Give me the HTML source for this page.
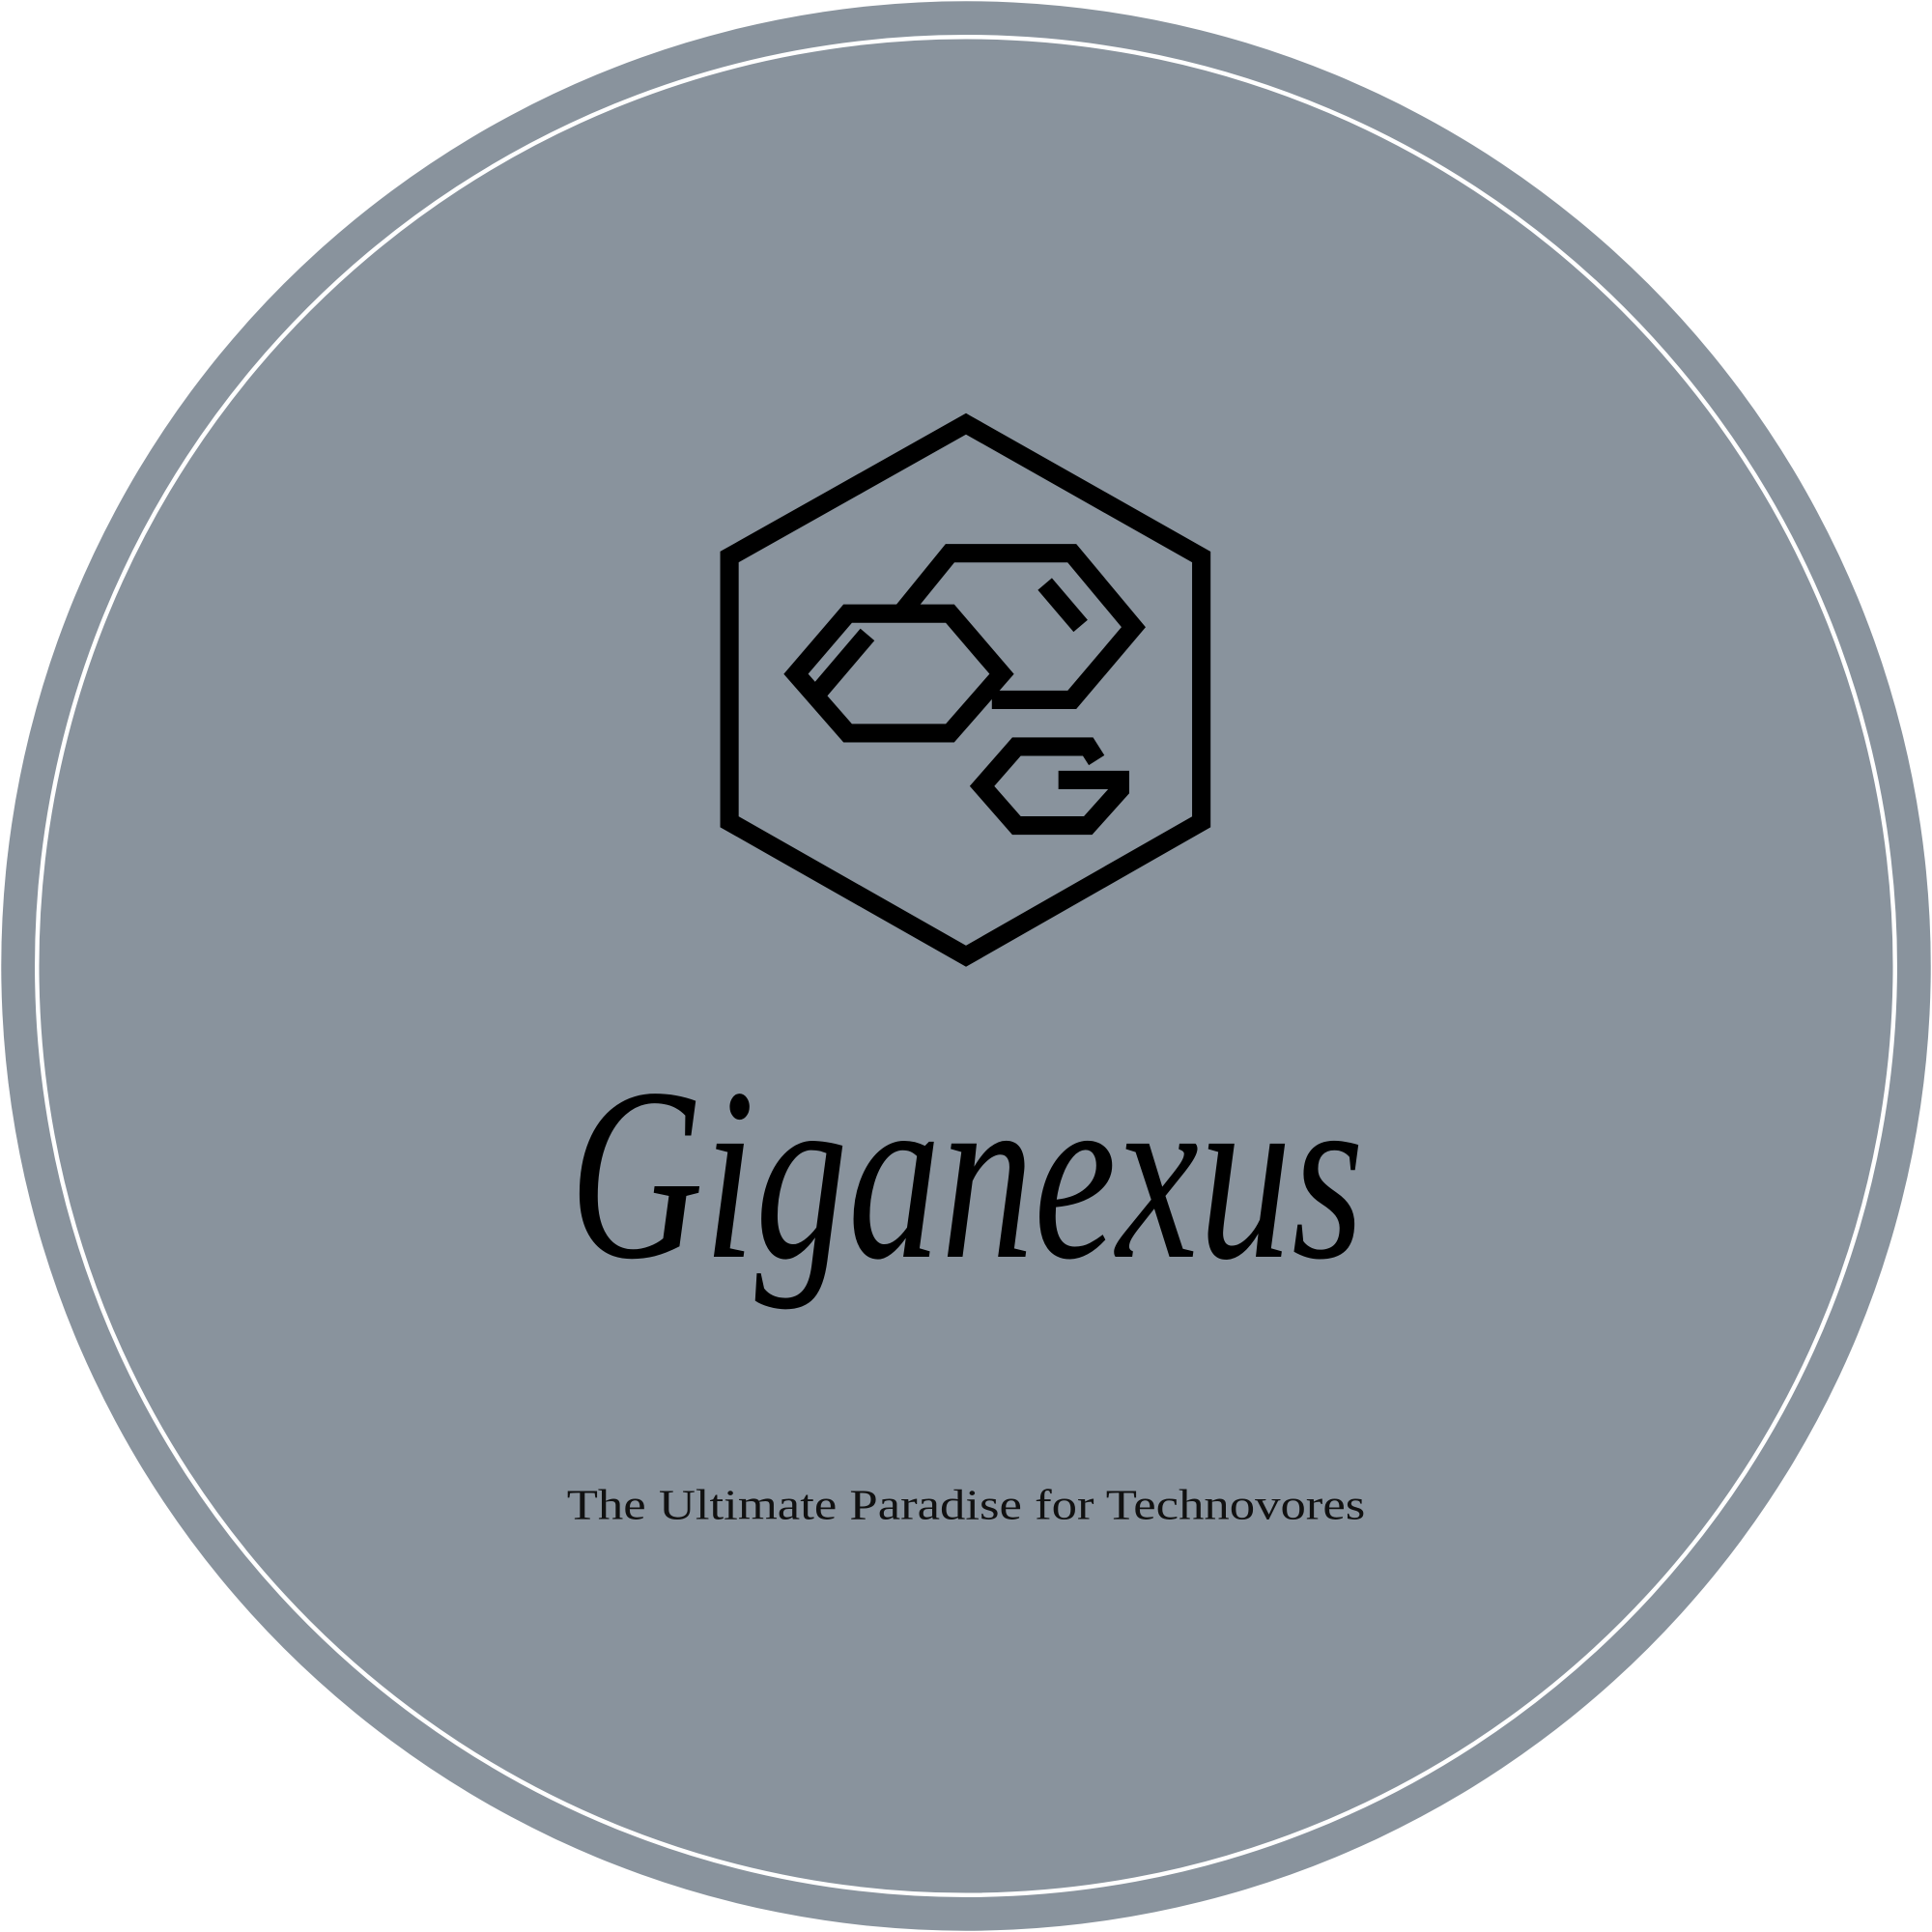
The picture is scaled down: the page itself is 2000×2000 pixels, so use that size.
<!DOCTYPE html>
<html><head><meta charset="utf-8"><style>
html,body{margin:0;padding:0;background:#fff;}
svg{display:block;}
</style></head><body>
<svg width="2000" height="2000" viewBox="0 0 1568 1568" xmlns="http://www.w3.org/2000/svg">
  <circle cx="784" cy="784" r="783" fill="#89939d"/>
  <circle cx="784" cy="784" r="754" fill="none" stroke="#ffffff" stroke-width="3.5"/>
  <g fill="none" stroke="#000" stroke-width="15" stroke-linejoin="miter">
    <polygon points="784,344 975,452 975,667 784,776 592,667 592,452"/>
    <polyline points="732,497 771,449 870,449 920,509 870,568 805,568"/>
    <polygon points="688,498 771,498 813,547 771,595 688,595 646,547"/>
    <line x1="704" y1="515" x2="664" y2="562"/>
    <line x1="848" y1="474" x2="877" y2="508"/>
    <polyline points="890,617 883,606 825,606 797,638 825,670 883,670 909,641 909,633 859,633"/>
  </g>
  <text x="462" y="1020" font-family="Liberation Serif, serif" font-style="italic" font-size="200" textLength="645" lengthAdjust="spacingAndGlyphs" fill="#000">Giganexus</text>
  <text x="460" y="1233" font-family="Liberation Serif, serif" font-size="35" textLength="648" lengthAdjust="spacingAndGlyphs" fill="#111">The Ultimate Paradise for Technovores</text>
</svg>
</body></html>
